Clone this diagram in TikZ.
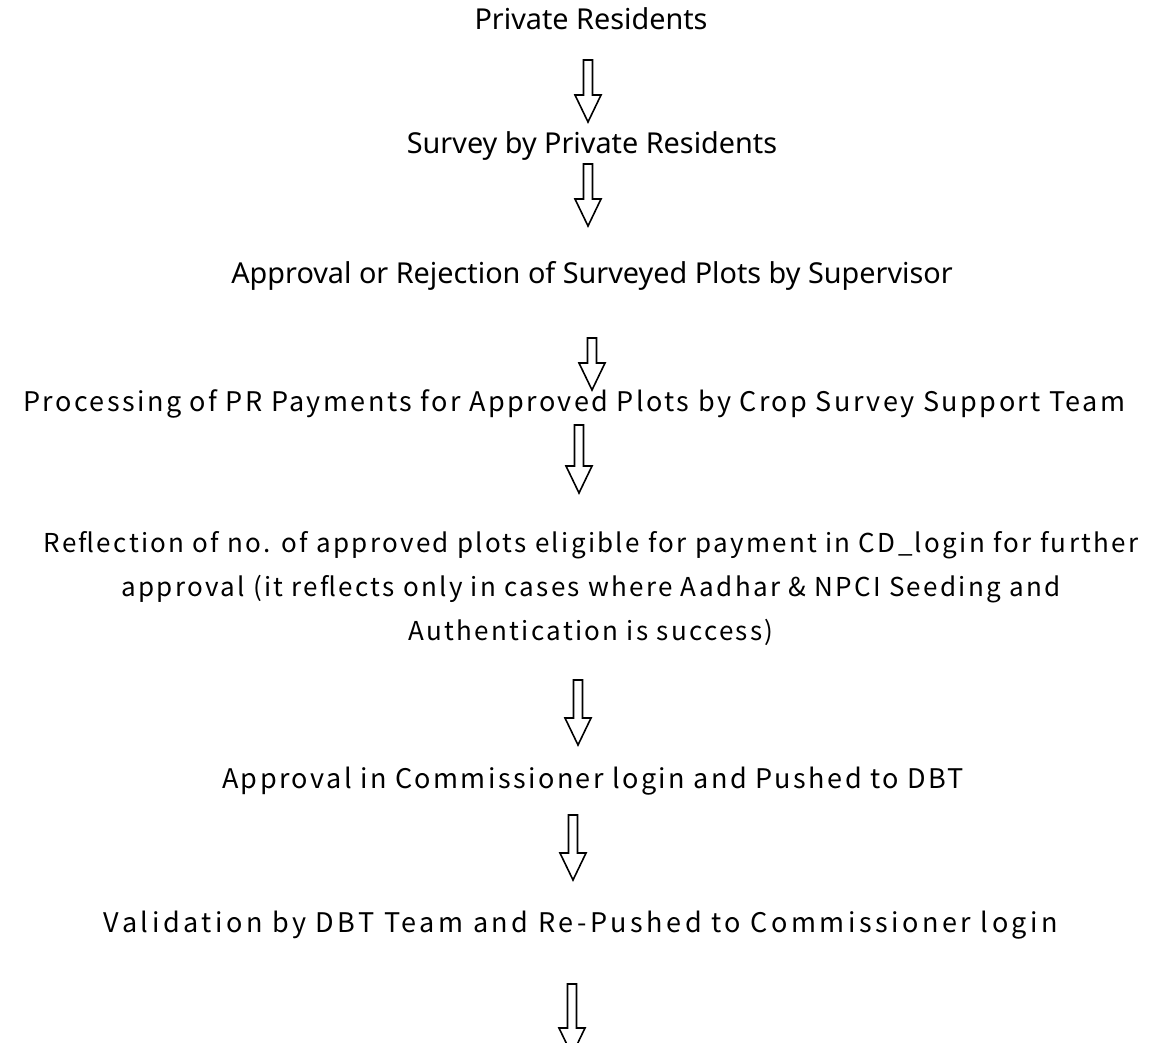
\documentclass[tikz,border=0pt]{standalone}
\usepackage{fontspec}
\setmainfont{Noto Sans}
\newfontfamily\gothicfont[LetterSpace=9]{Noto Sans CJK JP}
\newfontfamily\gothicwide[LetterSpace=13]{Noto Sans CJK JP}
\usetikzlibrary{calc}

\begin{document}
\begin{tikzpicture}[x=0.5pt, y=-0.5pt,
    headline/.style={anchor=base, font=\fontsize{14.4}{17}\selectfont},
    stage/.style={anchor=base, align=center, font=\gothicfont\fontsize{13.5}{22}\selectfont},
    hollowarrow/.style={draw, line width=0.8pt, line join=miter,
        to path={let \p1=(\tikztostart), \p2=(\tikztotarget) in
            (\x1-2.25pt,\y1) -- (\x1+2.25pt,\y1) -- (\x1+2.25pt,\y2+13.5pt) -- (\x1+6.5pt,\y2+13.5pt)
            -- (\x1,\y2) -- (\x1-6.5pt,\y2+13.5pt) -- (\x1-2.25pt,\y2+13.5pt) -- cycle}}
]
    \useasboundingbox (0,0) rectangle (1159,1042);
    \clip (0,0) rectangle (1159,1042);

    \node (private) [headline] at (591,30) {Private Residents};
    \node (survey) [headline] at (592,154) {Survey by Private Residents};
    \node (approval) [headline] at (592,284) {Approval or Rejection of Surveyed Plots by Supervisor};
    \node (payment) [stage] at (574.5,411) {Processing of PR Payments for Approved Plots by Crop Survey Support Team};
    % base anchor sits on the last line
    \node (reflection) [stage, font=\gothicfont\fontsize{13}{22}\selectfont] at (591,640) {Reflection of no. of approved plots eligible for payment in CD\_login for further\\approval (it reflects only in cases where Aadhar \& NPCI Seeding and\\Authentication is success)};
    \node (commissioner) [stage] at (593,788) {Approval in Commissioner login and Pushed to DBT};
    \node (validation) [stage, font=\gothicwide\fontsize{13.5}{22}\selectfont] at (581,932) {Validation by DBT Team and Re-Pushed to Commissioner login};

    % arrow ends
    \coordinate (a1s) at (588,60);  \coordinate (a1e) at (588,122);
    \coordinate (a2s) at (588,164); \coordinate (a2e) at (588,226);
    \coordinate (a3s) at (592,338); \coordinate (a3e) at (592,390);
    \coordinate (a4s) at (579,425); \coordinate (a4e) at (579,493);
    \coordinate (a5s) at (578,680); \coordinate (a5e) at (578,745);
    \coordinate (a6s) at (573,815); \coordinate (a6e) at (573,880);
    \coordinate (a7s) at (572,984); \coordinate (a7e) at (572,1055);

    \draw [hollowarrow] (a1s) to (a1e);
    \draw [hollowarrow] (a2s) to (a2e);
    \draw [hollowarrow] (a3s) to (a3e);
    \draw [hollowarrow] (a4s) to (a4e);
    \draw [hollowarrow] (a5s) to (a5e);
    \draw [hollowarrow] (a6s) to (a6e);
    \draw [hollowarrow] (a7s) to (a7e);
\end{tikzpicture}
\end{document}
